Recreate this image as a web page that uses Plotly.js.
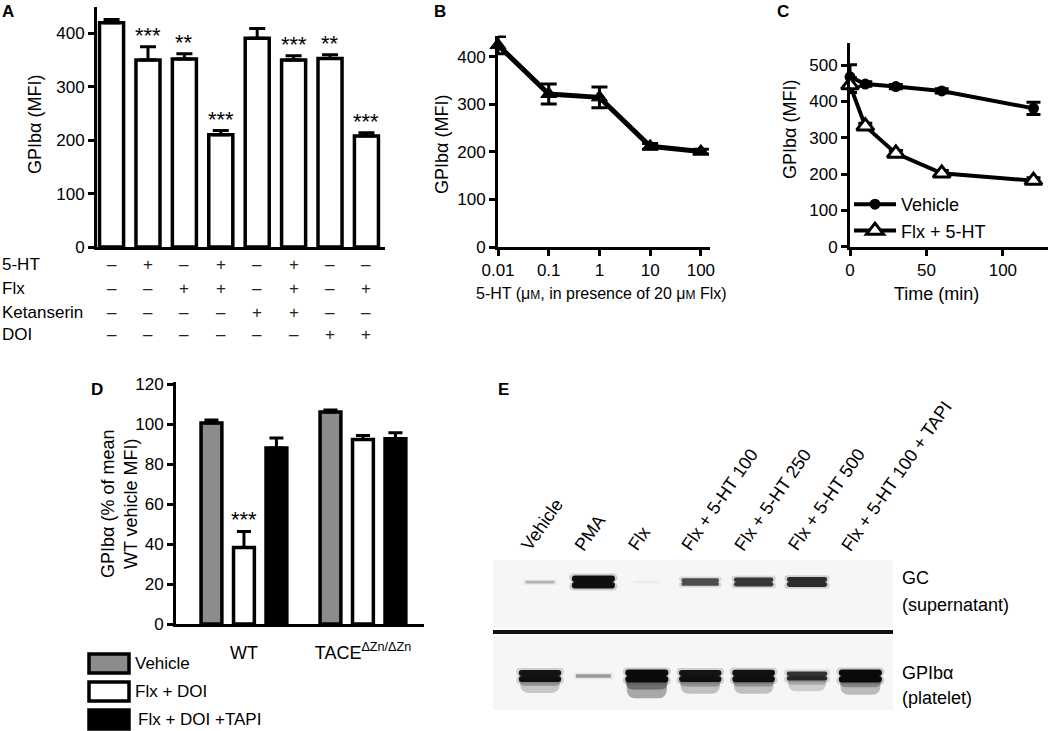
<!DOCTYPE html>
<html>
<head>
<meta charset="utf-8">
<script src="https://cdn.plot.ly/plotly-3.0.1.min.js"></script>
<style>
html,body{margin:0;padding:0;background:#fff;}
#chart{width:1050px;height:731px;}
</style>
</head>
<body>
<div id="chart"></div>
<script>
// ---------------- DATA ----------------
// Panel A
const aCategories = ['Vehicle', '5-HT', 'Flx', 'Flx + 5-HT', 'Ketanserin', 'Ketanserin + Flx + 5-HT', 'DOI', 'DOI + Flx'];
const aValues = [420, 350, 352, 210, 391, 350, 353, 208];
const aErrors = [6, 25, 10, 8, 18, 8, 7, 6];
const aStars = ['', '***', '**', '***', '', '***', '**', '***'];
const aRowLabels = ['5-HT', 'Flx', 'Ketanserin', 'DOI'];
const aRow5HT = [0, 1, 0, 1, 0, 1, 0, 0];
const aRowFlx = [0, 0, 1, 1, 0, 1, 0, 1];
const aRowKetanserin = [0, 0, 0, 0, 1, 1, 0, 0];
const aRowDOI = [0, 0, 0, 0, 0, 0, 1, 1];

// Panel B
const bDose = [0.01, 0.1, 1, 10, 100];
const bValues = [425, 322, 315, 212, 201];
const bErrors = [18, 21, 22, 6, 5];
const bTickVals = [0.01, 0.1, 1, 10, 100];
const bTickText = ['0.01', '0.1', '1', '10', '100'];

// Panel C
const cTime = [0, 10, 30, 60, 120];
const cVehicle = [468, 448, 441, 429, 381];
const cVehicleErr = [33, 6, 6, 6, 17];
const cFlx5HT = [445, 332, 257, 202, 182];
const cFlx5HTErr = [20, 8, 8, 8, 8];

// Panel D
const dGenotypes = ['WT', 'TACE<sup>ΔZn/ΔZn</sup>'];
const dSeriesNames = ['Vehicle', 'Flx + DOI', 'Flx + DOI +TAPI'];
const dVehicle = [100.5, 106];
const dVehicleErr = [1.5, 1];
const dFlxDOI = [38.3, 92.3];
const dFlxDOIErr = [8, 2];
const dFlxDOITAPI = [88, 92.6];
const dFlxDOITAPIErr = [5, 3];
const dStarsFlxDOI = ['***', ''];

// Panel E (band intensities, 0..1, read from the blot)
const eLanes = ['Vehicle', 'PMA', 'Flx', 'Flx + 5-HT 100', 'Flx + 5-HT 250', 'Flx + 5-HT 500', 'Flx + 5-HT 100 + TAPI'];
const eGC = [0.25, 1.0, 0.03, 0.7, 0.8, 0.85, 0.0];
const eGPIb = [0.95, 0.35, 1.0, 0.95, 0.97, 0.8, 1.0];
const eGPIbSmear = [0.5, 0.0, 0.8, 0.55, 0.55, 0.4, 0.6];

// ---------------- LAYOUT HELPERS ----------------
const W = 1050, H = 731;
const FONT = 'Liberation Sans, Arial, Helvetica, sans-serif';
const TXT = 17, TICK = 17, TITLE = 18;
const px = v => v / W;
const py = v => 1 - v / H;

const baseAxis = {
  showline: true, linewidth: 3, linecolor: '#000', showgrid: false, zeroline: false,
  ticks: 'outside', ticklen: 6, tickwidth: 3, tickcolor: '#000',
  tickfont: {family: FONT, size: TICK, color: '#000'}, fixedrange: true
};
const ax = o => Object.assign({}, baseAxis, o);

const traces = [];
const annotations = [];
const shapes = [];

// ---------------- PANEL A ----------------
traces.push({
  type: 'bar', x: aCategories, y: aValues, xaxis: 'x', yaxis: 'y', width: 0.66,
  marker: {color: '#fff', line: {color: '#000', width: 3.5}},
  error_y: {type: 'data', symmetric: false, array: aErrors, arrayminus: aValues.map(() => 0),
            color: '#000', thickness: 3, width: 8},
  showlegend: false, hoverinfo: 'skip'
});
aStars.forEach((s, i) => {
  if (!s) return;
  annotations.push({xref: 'x', yref: 'y', x: i, y: aValues[i] + aErrors[i], text: s,
    showarrow: false, xanchor: 'center', yanchor: 'bottom', yshift: -3, font: {family: FONT, size: 22, color: '#000'}});
});
const aRows = [aRow5HT, aRowFlx, aRowKetanserin, aRowDOI];
const aRowY = [265, 288, 312, 335];
aRows.forEach((row, r) => {
  annotations.push({xref: 'paper', yref: 'paper', x: px(0), y: py(aRowY[r]), text: aRowLabels[r],
    showarrow: false, xanchor: 'left', yanchor: 'middle', font: {family: FONT, size: TXT, color: '#000'}});
  row.forEach((v, i) => {
    annotations.push({xref: 'x', yref: 'paper', x: i, y: py(aRowY[r]), text: v ? '+' : '–',
      showarrow: false, xanchor: 'center', yanchor: 'middle', font: {family: FONT, size: TXT, color: '#222'}});
  });
});

// ---------------- PANEL B ----------------
traces.push({
  type: 'scatter', mode: 'lines+markers', x: bDose, y: bValues, xaxis: 'x2', yaxis: 'y2',
  line: {color: '#000', width: 5},
  marker: {symbol: 'triangle-up', size: 14, color: '#000', line: {color: '#000', width: 1}},
  error_y: {type: 'data', array: bErrors, color: '#000', thickness: 3, width: 8},
  cliponaxis: false, showlegend: false, hoverinfo: 'skip'
});

// ---------------- PANEL C ----------------
traces.push({
  type: 'scatter', mode: 'lines+markers', name: 'Vehicle', legendgroup: 'veh',
  x: cTime, y: cVehicle, xaxis: 'x3', yaxis: 'y3',
  line: {color: '#000', width: 4},
  marker: {symbol: 'circle', size: 11, color: '#000'},
  error_y: {type: 'data', array: cVehicleErr, color: '#000', thickness: 3, width: 7},
  cliponaxis: false, hoverinfo: 'skip'
});
traces.push({
  type: 'scatter', mode: 'lines+markers', name: 'Flx + 5-HT', legendgroup: 'flx',
  x: cTime, y: cFlx5HT, xaxis: 'x3', yaxis: 'y3',
  line: {color: '#000', width: 4},
  marker: {symbol: 'triangle-up', size: 15, color: '#fff', line: {color: '#000', width: 3}},
  error_y: {type: 'data', array: cFlx5HTErr, color: '#000', thickness: 3, width: 7},
  cliponaxis: false, hoverinfo: 'skip'
});

// ---------------- PANEL D ----------------
const dFills = ['#8c8c8c', '#ffffff', '#000000'];
const dVals = [dVehicle, dFlxDOI, dFlxDOITAPI];
const dErrs = [dVehicleErr, dFlxDOIErr, dFlxDOITAPIErr];
const dBarW = 0.175, dStep = 0.273;
dVals.forEach((vals, k) => {
  traces.push({
    type: 'bar', name: dSeriesNames[k], x: dGenotypes, y: vals, xaxis: 'x4', yaxis: 'y4',
    width: dBarW, offset: (k - 1) * dStep - dBarW / 2,
    marker: {color: dFills[k], line: {color: '#000', width: 3.5}},
    error_y: {type: 'data', symmetric: false, array: dErrs[k], arrayminus: vals.map(() => 0),
              color: '#000', thickness: 3, width: 7},
    showlegend: false, hoverinfo: 'skip'
  });
});
dStarsFlxDOI.forEach((s, i) => {
  if (!s) return;
  annotations.push({xref: 'x4', yref: 'y4', x: i, y: dFlxDOI[i] + dFlxDOIErr[i], text: s,
    showarrow: false, xanchor: 'center', yanchor: 'bottom', yshift: -3, font: {family: FONT, size: 22, color: '#000'}});
});
// custom legend for D
const dLegY = [[654, 673], [682, 701], [710, 729]];
dSeriesNames.forEach((n, k) => {
  shapes.push({type: 'rect', xref: 'paper', yref: 'paper', x0: px(89), x1: px(129),
    y0: py(dLegY[k][1]), y1: py(dLegY[k][0]), fillcolor: dFills[k], line: {color: '#000', width: 3.5}});
  annotations.push({xref: 'paper', yref: 'paper', x: px(k === 2 ? 136 : 133), y: py((dLegY[k][0] + dLegY[k][1]) / 2),
    text: n, showarrow: false, xanchor: 'left', yanchor: 'middle', font: {family: FONT, size: TXT, color: '#000'}});
});

// ---------------- PANEL E (blot) ----------------
const gcSpan = 68, gpSpan = 74, lanePx = 53.4;
const gcC = 0.676, gpC = 0.46;
function bandPair(vals, widthPx, heightPx, colorFn, yaxis, center, span, radius) {
  const w = vals.map(v => widthPx(v) / lanePx);
  const hUp = vals.map(v => heightPx(v) / 2 / span);
  const cols = vals.map(colorFn);
  [1, -1].forEach(sgn => {
    traces.push({
      type: 'bar', x: eLanes, y: hUp.map(h => sgn * h), base: vals.map(() => center),
      width: w, xaxis: 'x5', yaxis: yaxis,
      marker: {color: cols, line: {width: 0}, cornerradius: radius},
      showlegend: false, hoverinfo: 'skip'
    });
  });
}
// GPIb alpha (platelet) smear under the band
traces.push({
  type: 'bar', x: eLanes, y: eGPIbSmear.map(s => -(8 + 18 * s) / gpSpan), base: eLanes.map(() => gpC),
  width: eGPIb.map(v => (30 + 10 * v) / lanePx), xaxis: 'x5', yaxis: 'y6',
  marker: {color: eGPIbSmear.map(s => `rgba(30,30,30,${(0.45 * s).toFixed(3)})`), line: {width: 0}, cornerradius: 8},
  showlegend: false, hoverinfo: 'skip'
});
traces.push({
  type: 'bar', x: eLanes, y: eGPIbSmear.map(s => -(4 + 12 * s) / gpSpan), base: eLanes.map(() => gpC),
  width: eGPIb.map(v => (32 + 10 * v) / lanePx), xaxis: 'x5', yaxis: 'y6',
  marker: {color: eGPIbSmear.map(s => `rgba(20,20,20,${(0.5 * s).toFixed(3)})`), line: {width: 0}, cornerradius: 8},
  showlegend: false, hoverinfo: 'skip'
});
// GC (supernatant) bands: soft halo + core
bandPair(eGC, v => 30 + 18 * v, v => 5 + 12 * v * v, v => `rgba(60,60,60,${(0.22 * v).toFixed(3)})`, 'y5', gcC, gcSpan, 10);
bandPair(eGC, v => 25 + 18 * v, v => 2 + 11 * v * v, v => `rgba(15,15,15,${v.toFixed(3)})`, 'y5', gcC, gcSpan, 8);
// GPIb alpha bands
bandPair(eGPIb, v => 36 + 12 * v, v => 5 + 12 * v * v, v => `rgba(60,60,60,${(0.22 * v).toFixed(3)})`, 'y6', gpC, gpSpan, 10);
bandPair(eGPIb, v => 31 + 12 * v, v => 2 + 11 * v * v, v => `rgba(10,10,10,${v.toFixed(3)})`, 'y6', gpC, gpSpan, 8);

// blot backgrounds & separator
shapes.push({type: 'rect', xref: 'paper', yref: 'paper', x0: px(493), x1: px(893), y0: py(628), y1: py(560),
  fillcolor: '#f6f6f6', line: {width: 0}, layer: 'below'});
shapes.push({type: 'rect', xref: 'paper', yref: 'paper', x0: px(493), x1: px(893), y0: py(710), y1: py(636),
  fillcolor: '#f6f6f6', line: {width: 0}, layer: 'below'});
shapes.push({type: 'line', xref: 'paper', yref: 'paper', x0: px(493), x1: px(893), y0: py(632), y1: py(632),
  line: {color: '#111', width: 4}});
// lane labels
eLanes.forEach((l, i) => {
  annotations.push({xref: 'x5', yref: 'paper', x: i, y: py(557), text: l, textangle: -55,
    showarrow: false, xanchor: 'left', yanchor: 'bottom', xshift: -26,
    font: {family: FONT, size: 18, color: '#000'}});
});
[['GC', 578], ['(supernatant)', 605], ['GPIbα', 673], ['(platelet)', 698]].forEach(([t, y]) => {
  annotations.push({xref: 'paper', yref: 'paper', x: px(900), y: py(y), text: t, showarrow: false,
    xanchor: 'left', yanchor: 'middle', font: {family: FONT, size: TITLE, color: '#000'}});
});

// ---------------- TITLES / PANEL LABELS ----------------
const txt = (x, y, t, o) => annotations.push(Object.assign({xref: 'paper', yref: 'paper', x: px(x), y: py(y), text: t,
  showarrow: false, xanchor: 'center', yanchor: 'middle', font: {family: FONT, size: TITLE, color: '#000'}}, o || {}));
txt(35, 125, 'GPIbα (MFI)', {textangle: -90});
txt(442, 145, 'GPIbα (MFI)', {textangle: -90});
txt(790, 130, 'GPIbα (MFI)', {textangle: -90});
txt(119, 504, 'GPIbα (% of mean<br>WT vehicle MFI)', {textangle: -90});
txt(601, 293, '5-HT (μ<span style="font-size:12px">M</span>, in presence of 20 μ<span style="font-size:12px">M</span> Flx)', {font: {family: FONT, size: 16, color: '#000'}});
txt(936, 294, 'Time (min)');
const bold = {xanchor: 'left', yanchor: 'top', font: {family: FONT, size: 17, color: '#000'}};
txt(0, 0, '<b>A</b>', bold);
txt(432, 0, '<b>B</b>', bold);
txt(775, 0, '<b>C</b>', bold);
txt(89, 378, '<b>D</b>', bold);
txt(496, 378, '<b>E</b>', bold);

// ---------------- LAYOUT ----------------
const layout = {
  width: W, height: H, margin: {l: 0, r: 0, t: 0, b: 0},
  paper_bgcolor: '#fff', plot_bgcolor: 'rgba(0,0,0,0)',
  font: {family: FONT, size: TICK, color: '#000'},
  barmode: 'overlay',
  xaxis: ax({domain: [px(97), px(385)], anchor: 'y', type: 'category', range: [-0.4, 7.51],
    showticklabels: false, ticks: ''}),
  yaxis: ax({domain: [py(247), py(6.7)], anchor: 'x', range: [0, 450], tickvals: [0, 100, 200, 300, 400]}),
  xaxis2: ax({domain: [px(498), px(710)], anchor: 'y2', type: 'log', range: [-2, 2.18],
    tickvals: bTickVals, ticktext: bTickText, ticklabelstandoff: 0}),
  yaxis2: ax({domain: [py(247), py(35.6)], anchor: 'x2', range: [0, 445], tickvals: [0, 100, 200, 300, 400]}),
  xaxis3: ax({domain: [px(850), px(1048)], anchor: 'y3', range: [0, 129.5], tickvals: [0, 50, 100], ticklabelstandoff: 0}),
  yaxis3: ax({domain: [py(246.7), py(43)], anchor: 'x3', range: [0, 561], tickvals: [0, 100, 200, 300, 400, 500]}),
  xaxis4: ax({domain: [px(176), px(424)], anchor: 'y4', type: 'category', range: [-0.571, 1.513],
    ticks: '', ticklabelstandoff: 10, tickfont: {family: FONT, size: TITLE, color: '#000'}}),
  yaxis4: ax({domain: [py(624), py(382)], anchor: 'x4', range: [0, 121], tickvals: [0, 20, 40, 60, 80, 100, 120]}),
  xaxis5: {domain: [px(493), px(893)], anchor: 'y5', type: 'category', range: [-0.88, 6.61], visible: false, fixedrange: true},
  yaxis5: {domain: [py(628), py(560)], anchor: 'x5', range: [0, 1], visible: false, fixedrange: true},
  yaxis6: {domain: [py(710), py(636)], anchor: 'x5', range: [0, 1], visible: false, fixedrange: true},
  legend: {x: px(849), y: py(186), xanchor: 'left', yanchor: 'top', bgcolor: 'rgba(0,0,0,0)',
    font: {family: FONT, size: TITLE, color: '#000'}, itemwidth: 42, tracegroupgap: 17, traceorder: 'normal'},
  showlegend: true,
  annotations: annotations,
  shapes: shapes
};

Plotly.newPlot('chart', traces, layout, {staticPlot: true, displayModeBar: false});
</script>
</body>
</html>
